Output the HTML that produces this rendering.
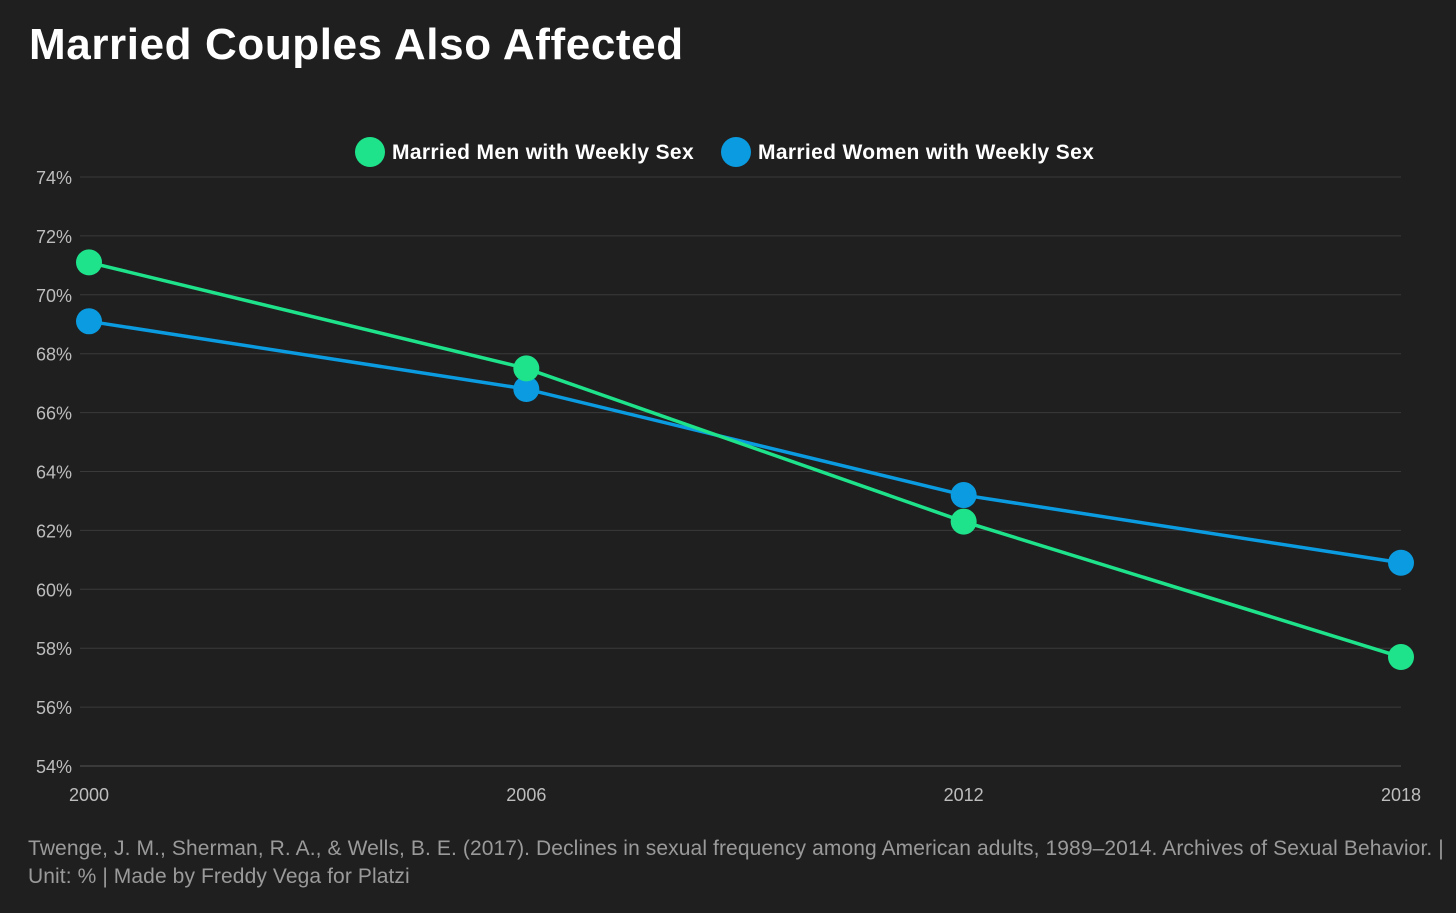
<!DOCTYPE html>
<html><head><meta charset="utf-8">
<style>
html,body{margin:0;padding:0;background:#1f1f1f;}
body{width:1456px;height:908px;overflow:hidden;font-family:"Liberation Sans",sans-serif;}
</style></head>
<body>
<svg width="1456" height="908" viewBox="0 0 1456 908" xmlns="http://www.w3.org/2000/svg">
<rect width="1456" height="908" fill="#1f1f1f"/>
<text x="29" y="59" fill="#ffffff" font-size="44" font-weight="bold" letter-spacing="0.6">Married Couples Also Affected</text>
<g id="legend">
<g><circle cx="370" cy="152" r="15" fill="#1ee38b"/><text x="392" y="159" fill="#fff" font-size="21" font-weight="bold" letter-spacing="0.35">Married Men with Weekly Sex</text></g>
<g><circle cx="736" cy="152" r="15" fill="#0b9be0"/><text x="758" y="159" fill="#fff" font-size="21" font-weight="bold" letter-spacing="0.35">Married Women with Weekly Sex</text></g>
</g>
<g id="grid"></g>
<g id="yticks"></g>
<g id="xticks"></g>
<g id="series"></g>
<text x="28" y="855" fill="#9a9a9a" font-size="21" letter-spacing="0.1">Twenge, J. M., Sherman, R. A., &amp; Wells, B. E. (2017). Declines in sexual frequency among American adults, 1989–2014. Archives of Sexual Behavior. |</text>
<text x="28" y="883" fill="#9a9a9a" font-size="21" letter-spacing="0.1">Unit: % | Made by Freddy Vega for Platzi</text>
</svg>
<script>
const years = [2000, 2006, 2012, 2018];
const men = [71.1, 67.5, 62.3, 57.7];
const women = [69.1, 66.8, 63.2, 60.9];
const yTicks = [54, 56, 58, 60, 62, 64, 66, 68, 70, 72, 74];

const NS = "http://www.w3.org/2000/svg";
const X0 = 89, X1 = 1401, Y0 = 766, Y1 = 177;
const xs = v => X0 + (v - 2000) / (2018 - 2000) * (X1 - X0);
const ys = v => Y0 - (v - 54) / (74 - 54) * (Y0 - Y1);
function mk(tag, attrs, parent) {
  const e = document.createElementNS(NS, tag);
  for (const k in attrs) e.setAttribute(k, attrs[k]);
  parent.appendChild(e);
  return e;
}
const grid = document.getElementById('grid');
const yt = document.getElementById('yticks');
const xt = document.getElementById('xticks');
yTicks.forEach(t => {
  const l = mk('line', {x1: 80, x2: X1, y1: ys(t), y2: ys(t), stroke: t === 54 ? '#555' : '#3a3a3a', 'stroke-width': 1}, grid);
  
  
  const tx = mk('text', {x: 72, y: ys(t) + 7, fill: '#bdbdbd', 'font-size': 18, 'text-anchor': 'end'}, yt);
  tx.textContent = t + '%';
  
  
});
years.forEach(y => {
  const tx = mk('text', {x: xs(y), y: 801, fill: '#bdbdbd', 'font-size': 18, 'text-anchor': 'middle'}, xt);
  tx.textContent = y;
  
  
});
const ser = document.getElementById('series');
[[women, '#0b9be0', 'women'], [men, '#1ee38b', 'men']].forEach(([vals, col, nm]) => {
  const p = mk('polyline', {points: vals.map((v, i) => xs(years[i]) + ',' + ys(v)).join(' '), fill: 'none', stroke: col, 'stroke-width': 3.5}, ser);
  
  
});
[[women, '#0b9be0', 'women'], [men, '#1ee38b', 'men']].forEach(([vals, col, nm]) => {
  vals.forEach((v, i) => {
    const c = mk('circle', {cx: xs(years[i]), cy: ys(v), r: 13, fill: col}, ser);
    
    
  });
});
</script>
</body></html>
